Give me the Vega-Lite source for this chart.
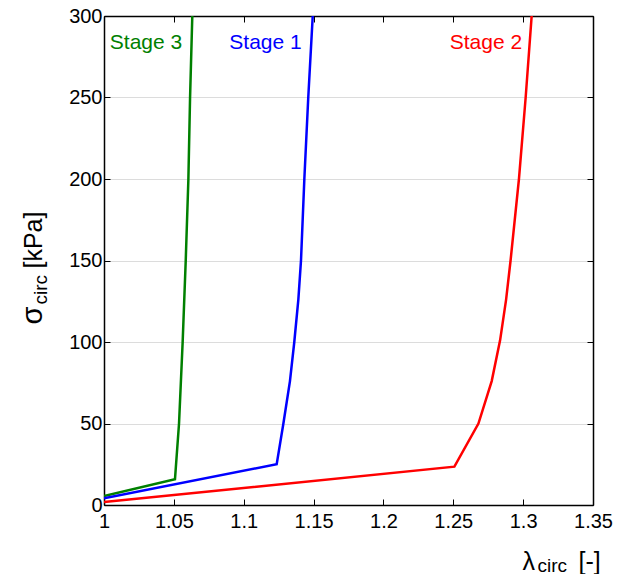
{
  "$schema": "https://vega.github.io/schema/vega-lite/v6.json",
  "width": 489,
  "height": 489,
  "autosize": {"type": "none"},
  "padding": {"left": 104, "top": 16, "right": 36, "bottom": 69},
  "background": "white",
  "config": {
    "view": {"stroke": null},
    "font": "Liberation Sans",
    "axis": {
      "labelFont": "Liberation Sans",
      "titleFont": "Liberation Sans",
      "labelColor": "black",
      "titleColor": "black",
      "titleFontWeight": "normal",
      "domainColor": "black",
      "tickColor": "black",
      "gridColor": "#dcdcdc",
      "gridWidth": 1
    }
  },
  "datasets": {
    "curves": [
      {"stage": "Stage 3", "lam": 1.0, "sigma": 5.5},
      {"stage": "Stage 3", "lam": 1.0508, "sigma": 15.8},
      {"stage": "Stage 3", "lam": 1.0537, "sigma": 50},
      {"stage": "Stage 3", "lam": 1.0563, "sigma": 100},
      {"stage": "Stage 3", "lam": 1.0585, "sigma": 150},
      {"stage": "Stage 3", "lam": 1.0604, "sigma": 200},
      {"stage": "Stage 3", "lam": 1.0616, "sigma": 250},
      {"stage": "Stage 3", "lam": 1.0632, "sigma": 300},
      {"stage": "Stage 1", "lam": 1.0, "sigma": 4.1},
      {"stage": "Stage 1", "lam": 1.1236, "sigma": 25},
      {"stage": "Stage 1", "lam": 1.1284, "sigma": 50},
      {"stage": "Stage 1", "lam": 1.1331, "sigma": 76},
      {"stage": "Stage 1", "lam": 1.1362, "sigma": 100},
      {"stage": "Stage 1", "lam": 1.1391, "sigma": 126},
      {"stage": "Stage 1", "lam": 1.141, "sigma": 150},
      {"stage": "Stage 1", "lam": 1.1434, "sigma": 200},
      {"stage": "Stage 1", "lam": 1.1462, "sigma": 250},
      {"stage": "Stage 1", "lam": 1.1494, "sigma": 300},
      {"stage": "Stage 2", "lam": 1.0, "sigma": 1.8},
      {"stage": "Stage 2", "lam": 1.2508, "sigma": 23.5},
      {"stage": "Stage 2", "lam": 1.268, "sigma": 50},
      {"stage": "Stage 2", "lam": 1.2775, "sigma": 76},
      {"stage": "Stage 2", "lam": 1.2835, "sigma": 101},
      {"stage": "Stage 2", "lam": 1.2878, "sigma": 126},
      {"stage": "Stage 2", "lam": 1.291, "sigma": 150},
      {"stage": "Stage 2", "lam": 1.297, "sigma": 200},
      {"stage": "Stage 2", "lam": 1.3018, "sigma": 250},
      {"stage": "Stage 2", "lam": 1.3061, "sigma": 300}
    ],
    "labels": [
      {"stage": "Stage 3", "lam": 1.0301, "sigma": 280},
      {"stage": "Stage 1", "lam": 1.1156, "sigma": 280},
      {"stage": "Stage 2", "lam": 1.2734, "sigma": 280}
    ]
  },
  "resolve": {"axis": {"x": "independent", "y": "independent"}},
  "layer": [
    {
      "data": {"name": "curves"},
      "mark": {"type": "line", "strokeWidth": 2.5, "clip": true},
      "encoding": {
        "x": {
          "field": "lam", "type": "quantitative",
          "scale": {"domain": [1, 1.35], "nice": false, "zero": false},
          "axis": {
            "orient": "bottom",
            "values": [1, 1.05, 1.1, 1.15, 1.2, 1.25, 1.3, 1.35],
            "format": "~g",
            "labelFontSize": 20,
            "labelPadding": 12,
            "labelFlush": false,
            "tickSize": -6,
            "tickWidth": 1,
            "domainWidth": 1.5,
            "grid": false,
            "title": "λ",
            "titleFontSize": 25,
            "titleX": 418,
            "titleY": 64,
            "titleAlign": "left",
            "titleBaseline": "alphabetic",
            "titleAngle": 0
          }
        },
        "y": {
          "field": "sigma", "type": "quantitative",
          "scale": {"domain": [0, 300], "nice": false},
          "axis": {
            "orient": "left",
            "values": [0, 50, 100, 150, 200, 250, 300],
            "labelFontSize": 20,
            "labelPadding": 8,
            "labelFlush": false,
            "tickSize": -6,
            "tickWidth": 1,
            "domainWidth": 1.5,
            "grid": true,
            "title": "σ",
            "titleFontSize": 29,
            "titleX": -63,
            "titleY": 308,
            "titleAlign": "left",
            "titleBaseline": "alphabetic",
            "titleAngle": -90
          }
        },
        "color": {
          "field": "stage", "type": "nominal",
          "scale": {"domain": ["Stage 1", "Stage 2", "Stage 3"], "range": ["#0000ff", "#ff0000", "#008000"]},
          "legend": null
        }
      }
    },
    {
      "data": {"name": "labels"},
      "mark": {"type": "text", "fontSize": 21, "align": "center", "baseline": "alphabetic", "font": "Liberation Sans"},
      "encoding": {
        "x": {
          "field": "lam", "type": "quantitative",
          "scale": {"domain": [1, 1.35], "nice": false, "zero": false},
          "axis": {
            "orient": "top",
            "values": [1, 1.05, 1.1, 1.15, 1.2, 1.25, 1.3, 1.35],
            "labels": false,
            "tickSize": -6,
            "tickWidth": 1,
            "domainWidth": 1.5,
            "grid": false,
            "title": null
          }
        },
        "y": {
          "field": "sigma", "type": "quantitative",
          "scale": {"domain": [0, 300], "nice": false},
          "axis": {
            "orient": "right",
            "values": [0, 50, 100, 150, 200, 250, 300],
            "labels": false,
            "tickSize": -6,
            "tickWidth": 1,
            "domainWidth": 1.5,
            "grid": false,
            "title": null
          }
        },
        "text": {"field": "stage"},
        "color": {
          "field": "stage", "type": "nominal",
          "scale": {"domain": ["Stage 1", "Stage 2", "Stage 3"], "range": ["#0000ff", "#ff0000", "#008000"]},
          "legend": null
        }
      }
    },
    {
      "data": {"name": "labels"},
      "mark": {"type": "point", "opacity": 0},
      "encoding": {
        "x": {
          "field": "lam", "type": "quantitative",
          "scale": {"domain": [1, 1.35], "nice": false, "zero": false},
          "axis": {
            "orient": "bottom", "labels": false, "ticks": false, "domain": false, "grid": false,
            "title": "circ", "titleFontSize": 19,
            "titleX": 433, "titleY": 66,
            "titleAlign": "left", "titleBaseline": "alphabetic", "titleAngle": 0
          }
        },
        "y": {
          "field": "sigma", "type": "quantitative",
          "scale": {"domain": [0, 300], "nice": false},
          "axis": {
            "orient": "left", "labels": false, "ticks": false, "domain": false, "grid": false,
            "title": "circ", "titleFontSize": 19,
            "titleX": -58, "titleY": 288,
            "titleAlign": "left", "titleBaseline": "alphabetic", "titleAngle": -90
          }
        }
      }
    },
    {
      "data": {"name": "labels"},
      "mark": {"type": "point", "opacity": 0},
      "encoding": {
        "x": {
          "field": "lam", "type": "quantitative",
          "scale": {"domain": [1, 1.35], "nice": false, "zero": false},
          "axis": {
            "orient": "bottom", "labels": false, "ticks": false, "domain": false, "grid": false,
            "title": "[-]", "titleFontSize": 25,
            "titleX": 474, "titleY": 64,
            "titleAlign": "left", "titleBaseline": "alphabetic", "titleAngle": 0
          }
        },
        "y": {
          "field": "sigma", "type": "quantitative",
          "scale": {"domain": [0, 300], "nice": false},
          "axis": {
            "orient": "left", "labels": false, "ticks": false, "domain": false, "grid": false,
            "title": "[kPa]", "titleFontSize": 25,
            "titleX": -63, "titleY": 252,
            "titleAlign": "left", "titleBaseline": "alphabetic", "titleAngle": -90
          }
        }
      }
    }
  ]
}
